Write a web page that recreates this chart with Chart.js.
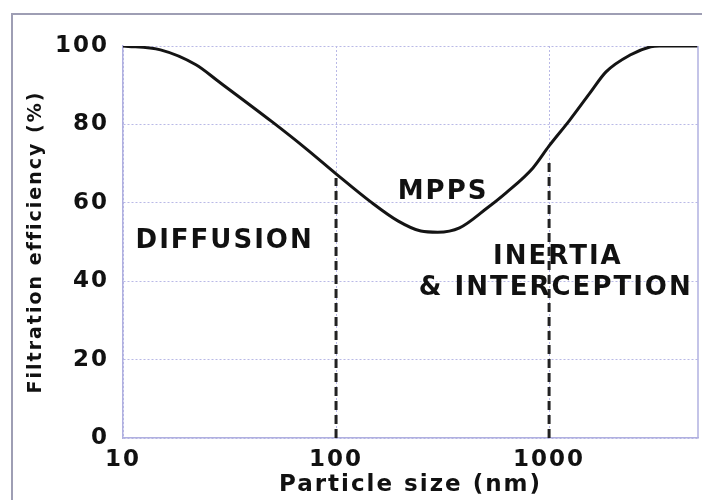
<!DOCTYPE html>
<html>
<head>
<meta charset="utf-8">
<script src="https://cdn.jsdelivr.net/npm/chart.js@4.4.1/dist/chart.umd.min.js"></script>
<style>
  html, body { margin: 0; padding: 0; background: #fff; }
  #wrap { width: 702px; height: 500px; }
</style>
</head>
<body>
<div id="wrap"><canvas id="chart" width="702" height="500"></canvas></div>
<script>
// particle size (nm) and filtration efficiency (%)
var particleSize = [10, 15, 22, 28, 50, 72, 100, 145, 195, 250, 300, 380, 510, 630, 840, 1000, 1250, 1550, 1850, 2400, 3000, 3300, 5000];
var efficiency   = [100, 99, 95.2, 91, 80.7, 73.9, 67.4, 60.3, 55.4, 52.8, 52.5, 53.6, 58.6, 62.6, 68.9, 74.5, 81.1, 87.9, 93.4, 97.7, 99.8, 100, 100];

var xTicks = [10, 100, 1000];
var yTicks = [0, 20, 40, 60, 80, 100];

// regime boundaries (dashed lines)
var dividerSize = [100, 1000];
var dividerTop = [66.3, 71];

var regionNames = ['DIFFUSION', 'MPPS', 'INERTIA', '& INTERCEPTION'];
var regionSize  = [30, 318, 1100, 1075];
var regionEff   = [50.3, 62.8, 46, 38.3];

var borderCol = '#b0b0e0';
var gridCol = '#b9b9e6';
var textCol = '#111';

var datasets = [{
  data: particleSize.map(function(x, i){ return {x: x, y: efficiency[i]}; }),
  borderColor: '#141414',
  borderWidth: 3,
  pointRadius: 0,
  cubicInterpolationMode: 'monotone',
  fill: false
}];
for (var i = 0; i < dividerSize.length; i++) {
  datasets.push({
    data: [{x: dividerSize[i], y: 0}, {x: dividerSize[i], y: dividerTop[i]}],
    borderColor: '#222',
    borderWidth: 3,
    borderDash: [9, 5],
    pointRadius: 0,
    fill: false
  });
}

var framePlugin = {
  id: 'frame',
  beforeDraw: function(chart) {
    var ctx = chart.ctx;
    ctx.save();
    ctx.fillStyle = '#fff';
    ctx.fillRect(0, 0, chart.width, chart.height);
    ctx.strokeStyle = '#9e9eb4';
    ctx.lineWidth = 2;
    ctx.strokeRect(12, 14, chart.width + 20, chart.height + 20);
    ctx.restore();
    ctx.letterSpacing = '2px';
  },
  afterDatasetsDraw: function(chart) {
    var ctx = chart.ctx;
    var a = chart.chartArea;
    var xs = chart.scales.x, ys = chart.scales.y;
    ctx.save();
    ctx.strokeStyle = borderCol;
    ctx.lineWidth = 1.5;
    ctx.beginPath();
    ctx.moveTo(a.right, a.top);
    ctx.lineTo(a.right, a.bottom);
    ctx.stroke();
    ctx.fillStyle = textCol;
    ctx.font = 'bold 26px "DejaVu Sans"';
    ctx.textAlign = 'center';
    ctx.textBaseline = 'middle';
    for (var i = 0; i < regionNames.length; i++) {
      ctx.fillText(regionNames[i], xs.getPixelForValue(regionSize[i]), ys.getPixelForValue(regionEff[i]));
    }
    ctx.restore();
  }
};

var tickFont = {family: 'DejaVu Sans', weight: 'bold', size: 23};

new Chart(document.getElementById('chart'), {
  type: 'line',
  data: {datasets: datasets},
  plugins: [framePlugin],
  options: {
    responsive: false,
    animation: false,
    devicePixelRatio: 1,
    layout: {padding: {top: 46, right: 4, left: 0, bottom: 0}},
    plugins: {legend: {display: false}, tooltip: {enabled: false}},
    scales: {
      x: {
        type: 'logarithmic',
        min: 10,
        max: 5000,
        afterBuildTicks: function(scale) {
          scale.ticks = xTicks.map(function(v){ return {value: v}; });
        },
        afterFit: function(scale) { scale.height = 62; },
        ticks: {
          font: tickFont, color: textCol, padding: 8,
          maxRotation: 0, autoSkip: false,
          callback: function(v) { return String(v); }
        },
        grid: {color: gridCol, lineWidth: 1, drawTicks: false},
        border: {display: true, color: borderCol, width: 1.5, dash: [2, 2]},
        title: {
          display: true, text: 'Particle size (nm)', color: textCol,
          font: {family: 'DejaVu Sans', weight: 'bold', size: 23},
          padding: {top: 0, bottom: 1}
        }
      },
      y: {
        min: 0,
        max: 100,
        afterBuildTicks: function(scale) {
          scale.ticks = yTicks.map(function(v){ return {value: v}; });
        },
        afterFit: function(scale) { scale.width = 123; },
        ticks: {font: tickFont, color: textCol, padding: 14},
        grid: {color: gridCol, lineWidth: 1, drawTicks: false},
        border: {display: true, color: borderCol, width: 1.5, dash: [2, 2]},
        title: {
          display: true, text: 'Filtration efficiency (%)', color: textCol,
          font: {family: 'DejaVu Sans', weight: 'bold', size: 19},
          padding: {top: 25, bottom: 0}
        }
      }
    }
  }
});
</script>
</body>
</html>
